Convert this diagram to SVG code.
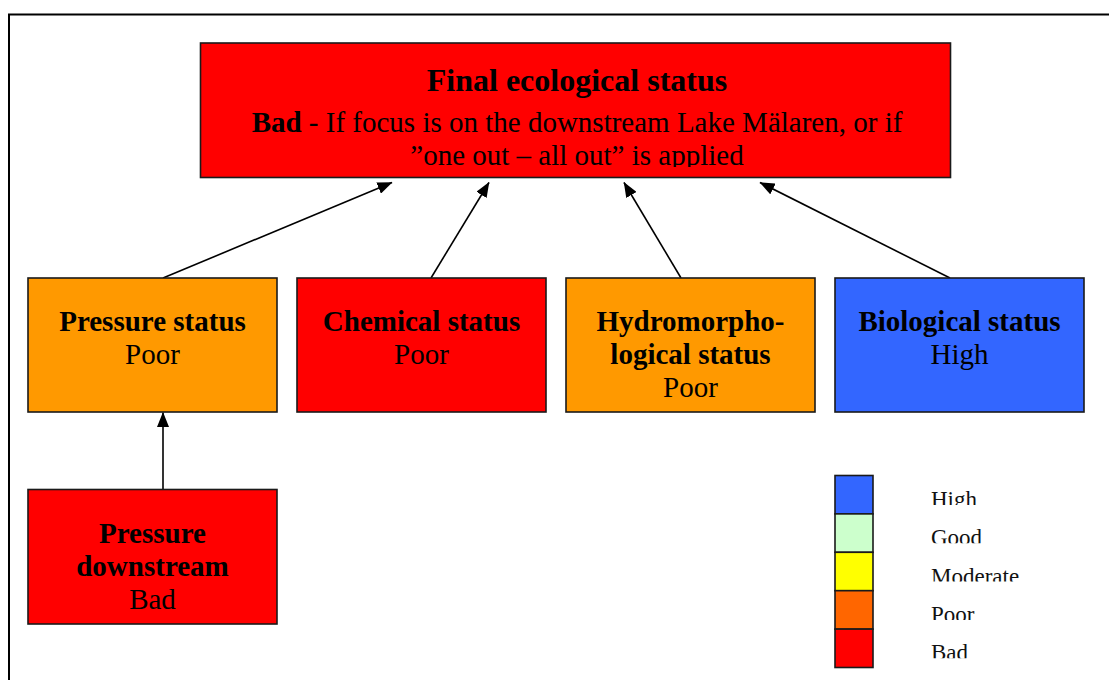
<svg xmlns="http://www.w3.org/2000/svg" width="1109" height="680" viewBox="0 0 1109 680">
<style>
.box{stroke:#1a1a1a;stroke-width:1.6}
.t{font-family:"Liberation Serif","Times New Roman",serif;fill:#000;text-anchor:middle}
.b{font-weight:bold}
.n{font-size:29px}
.lg{font-family:"Liberation Serif","Times New Roman",serif;font-size:23px;fill:#111}
.con{stroke:#000;stroke-width:1.6;fill:none;marker-end:url(#ah)}
</style>
<defs>
<marker id="ah" markerUnits="userSpaceOnUse" markerWidth="16" markerHeight="12" refX="14.5" refY="6" orient="auto">
<path d="M0,0 L15,6 L0,12 z" fill="#000"/>
</marker>
<clipPath id="clipTitle"><rect x="200" y="40" width="760" height="127"/></clipPath>
<clipPath id="clipLegend">
<rect x="900" y="480" width="200" height="25"/>
<rect x="900" y="518" width="200" height="25.3"/>
<rect x="900" y="556" width="200" height="25.6"/>
<rect x="900" y="594" width="200" height="26"/>
<rect x="900" y="632" width="200" height="26.3"/>
</clipPath>
</defs>
<rect width="1109" height="680" fill="#fff"/>
<rect x="9" y="14.5" width="1200" height="700" fill="none" stroke="#000" stroke-width="2"/>

<g id="connectors">
<line class="con" x1="163" y1="278" x2="392" y2="182.5"/>
<line class="con" x1="431" y1="278" x2="489" y2="182.5"/>
<line class="con" x1="681" y1="278" x2="624" y2="182.5"/>
<line class="con" x1="950" y1="278" x2="760" y2="182.5"/>
<line class="con" x1="163" y1="489" x2="163" y2="412.5"/>
</g>

<g id="final">
<rect class="box" x="200.5" y="43" width="750" height="134.5" fill="#ff0000"/>
<text class="t b" x="577" y="91" font-size="32">Final ecological status</text>
<text class="t n" x="577" y="132"><tspan class="b">Bad</tspan> - If focus is on the downstream Lake Mälaren, or if</text>
<text class="t n" x="577" y="165" clip-path="url(#clipTitle)">”one out – all out” is applied</text>
</g>

<g id="pressure">
<rect class="box" x="28" y="278" width="249" height="134" fill="#ff9900"/>
<text class="t n b" x="152.5" y="331">Pressure status</text>
<text class="t n" x="152.5" y="364">Poor</text>
</g>

<g id="chemical">
<rect class="box" x="297" y="278" width="249" height="134" fill="#ff0000"/>
<text class="t n b" x="421.5" y="331">Chemical status</text>
<text class="t n" x="421.5" y="364">Poor</text>
</g>

<g id="hydro">
<rect class="box" x="566" y="278" width="249" height="134" fill="#ff9900"/>
<text class="t n b" x="690.5" y="331">Hydromorpho-</text>
<text class="t n b" x="690.5" y="364">logical status</text>
<text class="t n" x="690.5" y="397">Poor</text>
</g>

<g id="biological">
<rect class="box" x="835" y="278" width="249" height="134" fill="#3366ff"/>
<text class="t n b" x="959.5" y="331">Biological status</text>
<text class="t n" x="959.5" y="364">High</text>
</g>

<g id="downstream">
<rect class="box" x="28" y="489.5" width="249" height="134.5" fill="#ff0000"/>
<text class="t n b" x="152.5" y="543">Pressure</text>
<text class="t n b" x="152.5" y="576">downstream</text>
<text class="t n" x="152.5" y="609">Bad</text>
</g>

<g id="legend">
<rect class="box" x="835" y="475.5" width="38" height="38.4" fill="#3366ff"/>
<rect class="box" x="835" y="513.9" width="38" height="38.4" fill="#ccffcc"/>
<rect class="box" x="835" y="552.3" width="38" height="38.4" fill="#ffff00"/>
<rect class="box" x="835" y="590.7" width="38" height="38.4" fill="#ff6600"/>
<rect class="box" x="835" y="629.1" width="38" height="38.4" fill="#ff0000"/>
<g clip-path="url(#clipLegend)">
<text class="lg" x="931" y="507">High</text>
<text class="lg" x="931" y="545.3">Good</text>
<text class="lg" x="931" y="583.7">Moderate</text>
<text class="lg" x="931" y="622">Poor</text>
<text class="lg" x="931" y="660.3">Bad</text>
</g>
</g>
</svg>
